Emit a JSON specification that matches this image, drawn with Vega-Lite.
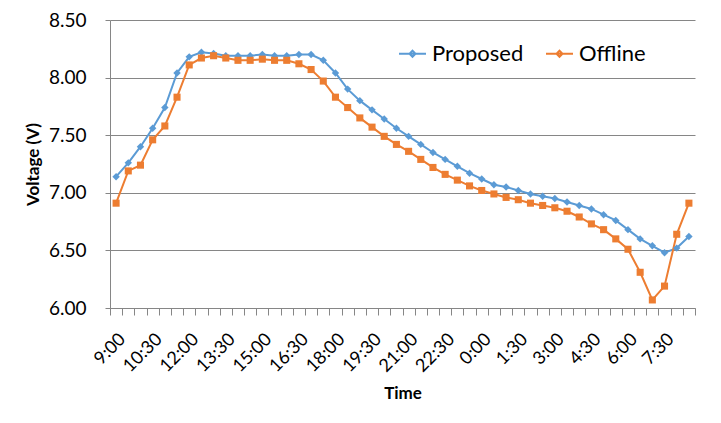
{
  "$schema": "https://vega.github.io/schema/vega-lite/v6.json",
  "width": 585,
  "height": 288,
  "autosize": {"type": "none"},
  "padding": {"left": 110, "top": 20, "right": 26, "bottom": 115},
  "background": "white",
  "config": {
    "view": {"stroke": null},
    "font": "Lato",
    "axis": {"labelColor": "#000000", "titleColor": "#000000", "domainColor": "#868686", "tickColor": "#868686", "gridColor": "#868686", "gridOpacity": 1, "domainWidth": 1, "tickWidth": 1, "gridWidth": 1}
  },
  "data": {
    "values": [
      {"i":0,"t":"9:00","s":"Proposed","v":7.14},{"i":1,"t":"9:30","s":"Proposed","v":7.26},{"i":2,"t":"10:00","s":"Proposed","v":7.40},{"i":3,"t":"10:30","s":"Proposed","v":7.56},
      {"i":4,"t":"11:00","s":"Proposed","v":7.74},{"i":5,"t":"11:30","s":"Proposed","v":8.04},{"i":6,"t":"12:00","s":"Proposed","v":8.18},{"i":7,"t":"12:30","s":"Proposed","v":8.22},
      {"i":8,"t":"13:00","s":"Proposed","v":8.21},{"i":9,"t":"13:30","s":"Proposed","v":8.19},{"i":10,"t":"14:00","s":"Proposed","v":8.19},{"i":11,"t":"14:30","s":"Proposed","v":8.19},
      {"i":12,"t":"15:00","s":"Proposed","v":8.20},{"i":13,"t":"15:30","s":"Proposed","v":8.19},{"i":14,"t":"16:00","s":"Proposed","v":8.19},{"i":15,"t":"16:30","s":"Proposed","v":8.20},
      {"i":16,"t":"17:00","s":"Proposed","v":8.20},{"i":17,"t":"17:30","s":"Proposed","v":8.15},{"i":18,"t":"18:00","s":"Proposed","v":8.04},{"i":19,"t":"18:30","s":"Proposed","v":7.90},
      {"i":20,"t":"19:00","s":"Proposed","v":7.80},{"i":21,"t":"19:30","s":"Proposed","v":7.72},{"i":22,"t":"20:00","s":"Proposed","v":7.64},{"i":23,"t":"20:30","s":"Proposed","v":7.56},
      {"i":24,"t":"21:00","s":"Proposed","v":7.49},{"i":25,"t":"21:30","s":"Proposed","v":7.42},{"i":26,"t":"22:00","s":"Proposed","v":7.35},{"i":27,"t":"22:30","s":"Proposed","v":7.29},
      {"i":28,"t":"23:00","s":"Proposed","v":7.23},{"i":29,"t":"23:30","s":"Proposed","v":7.17},{"i":30,"t":"0:00","s":"Proposed","v":7.12},{"i":31,"t":"0:30","s":"Proposed","v":7.07},
      {"i":32,"t":"1:00","s":"Proposed","v":7.05},{"i":33,"t":"1:30","s":"Proposed","v":7.02},{"i":34,"t":"2:00","s":"Proposed","v":6.99},{"i":35,"t":"2:30","s":"Proposed","v":6.97},
      {"i":36,"t":"3:00","s":"Proposed","v":6.95},{"i":37,"t":"3:30","s":"Proposed","v":6.92},{"i":38,"t":"4:00","s":"Proposed","v":6.89},{"i":39,"t":"4:30","s":"Proposed","v":6.86},
      {"i":40,"t":"5:00","s":"Proposed","v":6.81},{"i":41,"t":"5:30","s":"Proposed","v":6.76},{"i":42,"t":"6:00","s":"Proposed","v":6.68},{"i":43,"t":"6:30","s":"Proposed","v":6.60},
      {"i":44,"t":"7:00","s":"Proposed","v":6.54},{"i":45,"t":"7:30","s":"Proposed","v":6.48},{"i":46,"t":"8:00","s":"Proposed","v":6.52},{"i":47,"t":"8:30","s":"Proposed","v":6.62},
      {"i":0,"t":"9:00","s":"Offline","v":6.91},{"i":1,"t":"9:30","s":"Offline","v":7.19},{"i":2,"t":"10:00","s":"Offline","v":7.24},{"i":3,"t":"10:30","s":"Offline","v":7.46},
      {"i":4,"t":"11:00","s":"Offline","v":7.58},{"i":5,"t":"11:30","s":"Offline","v":7.83},{"i":6,"t":"12:00","s":"Offline","v":8.11},{"i":7,"t":"12:30","s":"Offline","v":8.17},
      {"i":8,"t":"13:00","s":"Offline","v":8.19},{"i":9,"t":"13:30","s":"Offline","v":8.17},{"i":10,"t":"14:00","s":"Offline","v":8.15},{"i":11,"t":"14:30","s":"Offline","v":8.15},
      {"i":12,"t":"15:00","s":"Offline","v":8.16},{"i":13,"t":"15:30","s":"Offline","v":8.15},{"i":14,"t":"16:00","s":"Offline","v":8.15},{"i":15,"t":"16:30","s":"Offline","v":8.12},
      {"i":16,"t":"17:00","s":"Offline","v":8.07},{"i":17,"t":"17:30","s":"Offline","v":7.97},{"i":18,"t":"18:00","s":"Offline","v":7.83},{"i":19,"t":"18:30","s":"Offline","v":7.74},
      {"i":20,"t":"19:00","s":"Offline","v":7.65},{"i":21,"t":"19:30","s":"Offline","v":7.57},{"i":22,"t":"20:00","s":"Offline","v":7.49},{"i":23,"t":"20:30","s":"Offline","v":7.42},
      {"i":24,"t":"21:00","s":"Offline","v":7.36},{"i":25,"t":"21:30","s":"Offline","v":7.29},{"i":26,"t":"22:00","s":"Offline","v":7.22},{"i":27,"t":"22:30","s":"Offline","v":7.16},
      {"i":28,"t":"23:00","s":"Offline","v":7.11},{"i":29,"t":"23:30","s":"Offline","v":7.06},{"i":30,"t":"0:00","s":"Offline","v":7.02},{"i":31,"t":"0:30","s":"Offline","v":6.99},
      {"i":32,"t":"1:00","s":"Offline","v":6.96},{"i":33,"t":"1:30","s":"Offline","v":6.94},{"i":34,"t":"2:00","s":"Offline","v":6.91},{"i":35,"t":"2:30","s":"Offline","v":6.89},
      {"i":36,"t":"3:00","s":"Offline","v":6.87},{"i":37,"t":"3:30","s":"Offline","v":6.84},{"i":38,"t":"4:00","s":"Offline","v":6.79},{"i":39,"t":"4:30","s":"Offline","v":6.73},
      {"i":40,"t":"5:00","s":"Offline","v":6.68},{"i":41,"t":"5:30","s":"Offline","v":6.60},{"i":42,"t":"6:00","s":"Offline","v":6.51},{"i":43,"t":"6:30","s":"Offline","v":6.31},
      {"i":44,"t":"7:00","s":"Offline","v":6.07},{"i":45,"t":"7:30","s":"Offline","v":6.19},{"i":46,"t":"8:00","s":"Offline","v":6.64},{"i":47,"t":"8:30","s":"Offline","v":6.91}
    ]
  },
  "encoding": {
    "x": {
      "field": "t", "type": "ordinal", "sort": null,
      "scale": {"type": "band", "paddingInner": 0, "paddingOuter": 0},
      "axis": {
        "title": "Time", "titleFontSize": 17, "titleFontWeight": "bold", "titlePadding": 10,
        "labelAngle": -45, "labelFontSize": 18, "labelPadding": 15, "labelOverlap": false, "labelBound": false,
        "labelExpr": "indexof(['9:00','10:30','12:00','13:30','15:00','16:30','18:00','19:30','21:00','22:30','0:00','1:30','3:00','4:30','6:00','7:30'], datum.value) >= 0 ? datum.value : ''",
        "tickBand": "extent", "tickSize": 7, "grid": false
      }
    },
    "y": {
      "field": "v", "type": "quantitative",
      "scale": {"domain": [6, 8.5], "nice": false, "zero": false},
      "axis": {
        "title": "Voltage (V)", "titleFontSize": 17, "titleFontWeight": "bold", "titlePadding": 6,
        "values": [6, 6.5, 7, 7.5, 8, 8.5], "format": ".2f",
        "labelFontSize": 19, "labelPadding": 19, "tickSize": 5, "grid": true
      }
    },
    "order": {"field": "i", "type": "quantitative"}
  },
  "layer": [
    {
      "mark": {"type": "line", "strokeWidth": 2},
      "encoding": {
        "color": {
          "field": "s", "type": "nominal",
          "scale": {"domain": ["Proposed", "Offline"], "range": ["#5B9BD5", "#ED7D31"]},
          "legend": {
            "title": null, "orient": "none", "direction": "horizontal",
            "legendX": 288, "legendY": 19,
            "labelFontSize": 22, "labelColor": "#000000", "labelOffset": 5, "columnPadding": 18,
            "symbolType": "M-1,0L1,0M0,-0.22L0.22,0L0,0.22L-0.22,0Z", "symbolSize": 729, "symbolStrokeWidth": 2
          }
        }
      }
    },
    {
      "mark": {"type": "point", "filled": true, "opacity": 1},
      "encoding": {
        "shape": {"field": "s", "type": "nominal", "scale": {"domain": ["Proposed", "Offline"], "range": ["diamond", "square"]}, "legend": null},
        "size": {"field": "s", "type": "nominal", "scale": {"domain": ["Proposed", "Offline"], "range": [55, 50]}, "legend": null},
        "color": {
          "field": "s", "type": "nominal",
          "scale": {"domain": ["Proposed", "Offline"], "range": ["#5B9BD5", "#ED7D31"]},
          "legend": null
        }
      }
    }
  ],
  "resolve": {"scale": {"color": "independent"}}
}
